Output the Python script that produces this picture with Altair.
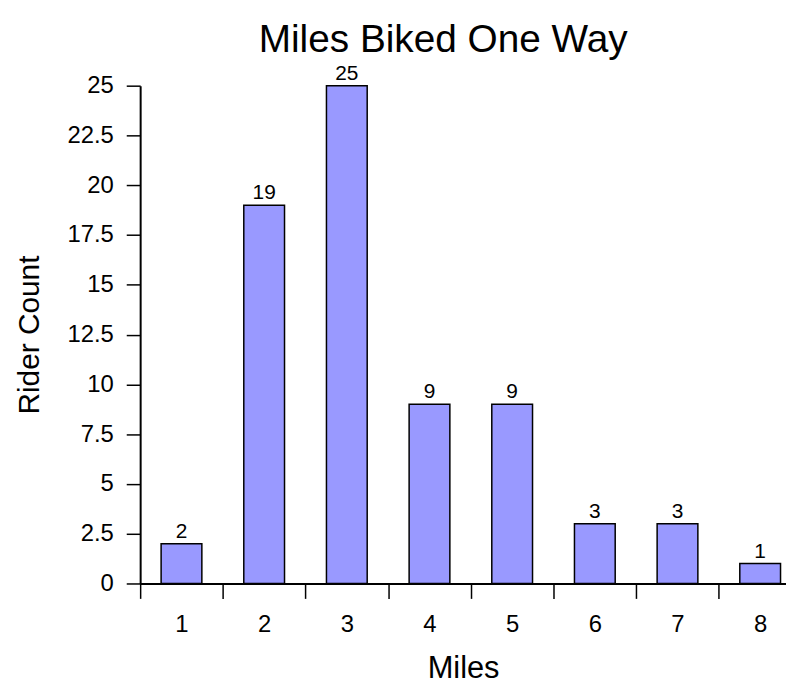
import altair as alt
import pandas as pd

# Data
miles = [1, 2, 3, 4, 5, 6, 7, 8]
rider_counts = [2, 19, 25, 9, 9, 3, 3, 1]

# Axis tick values
x_tick_values = [0.5, 1.5, 2.5, 3.5, 4.5, 5.5, 6.5, 7.5]
y_tick_values = [0, 2.5, 5, 7.5, 10, 12.5, 15, 17.5, 20, 22.5, 25]

df = pd.DataFrame({"miles": miles, "count": rider_counts})

FONT = "Liberation Sans, Arial, Helvetica, sans-serif"

x_enc = alt.X(
    "miles:Q",
    scale=alt.Scale(domain=[0.5, 8.3125], nice=False, zero=False, padding=0),
    axis=alt.Axis(
        values=x_tick_values,
        labelExpr="format(datum.value + 0.5, 'd')",
        labelOffset=41.6,
        labelFlush=False,
        labelOverlap=False,
        title="Miles",
        titleFontSize=31,
        titlePadding=18,
        labelFontSize=24,
        labelPadding=14,
        tickSize=15,
    ),
)
y_enc = alt.Y(
    "count:Q",
    scale=alt.Scale(domain=[0, 25], nice=False, padding=0),
    axis=alt.Axis(
        values=y_tick_values,
        labelExpr="format(datum.value, '~g')",
        labelOverlap=False,
        title="Rider Count",
        titleFontSize=30,
        titlePadding=23,
        labelFontSize=24,
        labelPadding=13,
        tickSize=14,
    ),
)

base = alt.Chart(df)

bars = base.mark_bar(
    size=41, color="#9999FF", stroke="black", strokeWidth=1.5
).encode(x=x_enc, y=y_enc)

labels = base.mark_text(
    baseline="alphabetic", dy=-6, fontSize=21, font=FONT, color="black"
).encode(x="miles:Q", y="count:Q", text="count:Q")

chart = (
    (bars + labels)
    .properties(
        width=650,
        height=501,
        autosize=alt.AutoSizeParams(type="none"),
        padding={"left": 133, "top": 76, "right": 0, "bottom": 100},
        title=alt.TitleParams(
            "Miles Biked One Way",
            fontSize=39,
            font=FONT,
            fontWeight="normal",
            color="black",
            offset=3,
            dx=-20,
        ),
    )
    .configure_view(stroke=None)
    .configure_axis(
        grid=False,
        domainColor="black",
        domainWidth=2,
        tickColor="black",
        tickWidth=1.5,
        labelColor="black",
        titleColor="black",
        labelFont=FONT,
        titleFont=FONT,
        titleFontWeight="normal",
    )
)

chart.save("out.html", embed_options={"renderer": "svg", "actions": False})
